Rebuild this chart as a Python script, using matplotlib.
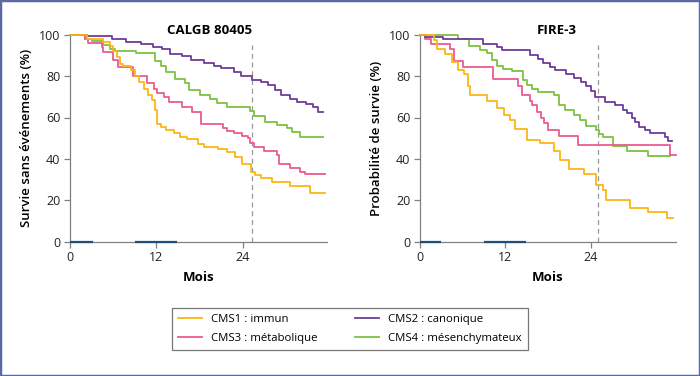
import matplotlib
matplotlib.use("Agg")
import matplotlib.pyplot as plt
from matplotlib.patches import Rectangle

plt.rcParams['font.family'] = ['Open Sans', 'DejaVu Sans']

# CALGB 80405 (mois, % survie sans événements) -- niveau qui commence à chaque temps
calgb_cms1_t = [0, 2.4, 4.6, 5.6, 6.0, 6.5, 6.9, 7.3, 8.5, 9.0, 9.6, 10.3, 10.9, 11.4, 11.8, 12.1, 12.7,
                13.4, 14.4, 15.3, 16.2, 17.8, 18.6, 20.6, 21.8, 22.9, 23.9, 25.1, 25.7, 26.6, 28.0,
                30.5, 33.3, 35.4]
calgb_cms1_v = [100, 97.9, 96.6, 94.5, 92, 89, 86, 84.9, 83, 80, 77.3, 74, 70.9, 68.4, 63.6, 56.7, 55.2,
                54, 52.3, 50.7, 49.4, 47.2, 45.6, 44.6, 43.5, 41, 37.4, 33.8, 32.2, 30.6, 29,
                26.9, 23.7, 23.7]
calgb_cms2_t = [0, 2.3, 5.8, 7.8, 9.9, 11.5, 12.8, 13.9, 15.5, 16.8, 18.6, 20.0, 21.0, 22.8, 23.8,
                25.3, 26.5, 27.5, 28.5, 29.3, 30.6, 31.5, 32.8, 33.8, 34.5, 35.2]
calgb_cms2_v = [100, 99.5, 98, 96.5, 95.5, 94, 93, 90.5, 89.5, 88, 86.5, 85, 84, 82, 80,
                78, 77, 75.5, 73.5, 71, 69, 67.5, 66.5, 65, 62.5, 62.5]
calgb_cms3_t = [0, 2.1, 2.5, 4.4, 4.6, 6.0, 6.7, 8.8, 10.7, 11.7, 12.1, 13.0, 13.7, 15.5, 16.9, 18.2,
                21.3, 21.8, 22.8, 23.9, 24.7, 25.0, 25.5, 26.9, 28.7, 29.1, 30.6, 32.0, 32.7, 35.4]
calgb_cms3_v = [100, 98, 96, 94, 91.5, 88, 84.5, 80.2, 76.8, 74, 72, 70, 67.6, 65.2, 62.8, 56.7,
                54.7, 53.5, 52.7, 51, 50, 47.8, 45.9, 44, 41.9, 37.5, 35.7, 33.8, 32.7, 32.7]
calgb_cms4_t = [0, 2.1, 3.0, 4.6, 5.6, 6.3, 9.2, 11.8, 12.7, 13.4, 14.6, 16.0, 16.5, 18.1, 19.5,
                20.4, 21.8, 25.0, 25.5, 27.1, 28.7, 30.1, 30.8, 32.0, 35.2]
calgb_cms4_v = [100, 98, 97, 95, 93, 92, 91, 87.5, 85, 82, 78.5, 76.5, 73.5, 71, 69,
                67, 65, 63, 60.5, 58, 56.5, 55, 53, 50.5, 50.5]

# FIRE-3 (mois, % probabilité de survie)
fire_cms1_t = [0, 1.9, 2.4, 3.5, 4.5, 5.4, 6.2, 6.7, 7.1, 9.4, 10.8, 11.8, 12.7, 13.4, 15.0, 16.9,
               18.8, 19.7, 20.9, 23.0, 24.7, 25.7, 26.2, 29.5, 32.1, 34.8, 35.6]
fire_cms1_v = [100, 97.5, 93, 90.5, 87, 83, 81, 75, 71, 68, 64.5, 61, 59, 54.5, 49, 47.5,
               44, 39.5, 35, 32.5, 27.5, 25, 20, 16.5, 14.3, 11.5, 11.5]
fire_cms2_t = [0, 0.7, 3.3, 8.9, 10.8, 11.5, 15.5, 16.6, 17.3, 18.3, 19.0, 20.6, 21.7, 22.7, 23.4,
               24.1, 24.6, 26.0, 27.4, 28.6, 29.1, 29.8, 30.2, 30.8, 31.6, 32.3, 34.5, 34.9, 35.4]
fire_cms2_v = [100, 99, 98, 95.5, 94, 92.5, 90, 88.5, 86.5, 84.5, 83, 81, 79, 77, 75,
               72.7, 70, 67.5, 66, 63.5, 62, 60, 58, 55.5, 54, 52.5, 50.5, 48.5, 48.5]
fire_cms3_t = [0, 0.7, 1.6, 4.2, 4.8, 6.1, 10.3, 13.8, 14.3, 15.5, 15.8, 16.4, 17.0, 17.5, 18.0,
               19.5, 22.2, 35.1, 36.0]
fire_cms3_v = [100, 98, 95.5, 93, 87.5, 84.5, 78.5, 75, 71, 68, 66, 62.5, 60, 57.5, 54,
               51, 46.5, 42, 42]
fire_cms4_t = [0, 5.4, 6.9, 8.4, 9.4, 10.1, 10.8, 11.7, 12.9, 14.5, 15.0, 15.7, 16.6, 18.8, 19.5,
               20.4, 21.6, 22.5, 23.4, 24.8, 25.2, 25.8, 27.2, 29.1, 32.0, 35.2]
fire_cms4_v = [100, 98, 94.5, 92.5, 91, 88, 85, 83.5, 82.5, 78, 75.5, 74, 72.5, 71, 66,
               63.8, 61, 59, 56, 54, 52, 50.5, 46, 43.6, 41.5, 41.5]

noms = ['CMS1 : immun', 'CMS2 : canonique', 'CMS3 : métabolique', 'CMS4 : mésenchymateux']
couleurs = ['#FDB515', '#6E3D9A', '#EC5B93', '#7DC143']
# le jaune passe par-dessus les autres
plans = [2.6, 2.4, 2.3, 2.2]

# traits bleus sur l'axe des x (mois)
barres_calgb = [(0, 3.2), (9.0, 14.9)]
barres_fire = [(0, 2.9), (9.0, 14.9)]
repere_calgb = 25.3
repere_fire = 25.1

fig = plt.figure(figsize=(7, 3.76), dpi=100)
ax1 = fig.add_axes([70 / 700, 1 - 241.7 / 376, 257 / 700, 207 / 376])
ax2 = fig.add_axes([420 / 700, 1 - 241.7 / 376, 256 / 700, 207 / 376])

panneaux = [
    (ax1, [(calgb_cms1_t, calgb_cms1_v), (calgb_cms2_t, calgb_cms2_v),
           (calgb_cms3_t, calgb_cms3_v), (calgb_cms4_t, calgb_cms4_v)],
     barres_calgb, repere_calgb, 35.7, 'Survie sans événements (%)'),
    (ax2, [(fire_cms1_t, fire_cms1_v), (fire_cms2_t, fire_cms2_v),
           (fire_cms3_t, fire_cms3_v), (fire_cms4_t, fire_cms4_v)],
     barres_fire, repere_fire, 36.0, 'Probabilité de survie (%)'),
]

lignes = []
for ax, courbes, barres, repere, xmax, ylab in panneaux:
    ax.vlines(repere, 0, 95, colors='#999999', linestyles=(0, (4, 3)), linewidth=0.9)
    lignes = []
    for (t, v), c, n, z in zip(courbes, couleurs, noms, plans):
        l, = ax.step(t, v, where='post', color=c, linewidth=1.3, label=n,
                     clip_on=False, zorder=z)
        lignes.append(l)
    for a, b in barres:
        ax.plot([a, b], [0, 0], color='#1F4E79', linewidth=1.6, clip_on=False, zorder=5,
                solid_capstyle='butt')
    ax.set_xlim(0, xmax)
    ax.set_ylim(0, 100)
    ax.set_xticks([0, 12, 24])
    ax.set_yticks([0, 20, 40, 60, 80, 100])
    for s in ['top', 'right']:
        ax.spines[s].set_visible(False)
    for s in ['left', 'bottom']:
        ax.spines[s].set_color('#808080')
        ax.spines[s].set_linewidth(0.9)
    ax.tick_params(direction='out', length=4, width=0.9, color='#808080',
                   labelsize=9, labelcolor='#222222', pad=3)
    ax.set_ylabel(ylab, fontsize=9.5, fontweight='semibold', labelpad=4)
    ax.set_xlabel('Mois', fontsize=9.5, fontweight='bold', labelpad=5)

fig.text(210 / 700, 1 - 30 / 376, 'CALGB 80405', ha='center', va='center',
         fontsize=9.5, fontweight='bold')
fig.text(557 / 700, 1 - 30 / 376, 'FIRE-3', ha='center', va='center',
         fontsize=9.5, fontweight='bold')

ordre = [0, 2, 1, 3]
leg = fig.legend([lignes[i] for i in ordre], [noms[i] for i in ordre], ncol=2,
                 loc='center', bbox_to_anchor=(350 / 700, 1 - 329 / 376),
                 fontsize=8.2, frameon=True, fancybox=False, handlelength=2.1,
                 columnspacing=3.3, borderpad=0.5, labelspacing=0.75, handletextpad=0.8)
leg.get_frame().set_edgecolor('#555555')
leg.get_frame().set_linewidth(0.9)

fig.patches.append(Rectangle((0, 0), 1, 1, transform=fig.transFigure, fill=False,
                             edgecolor='#5B6AA5', linewidth=2.5))

fig.savefig('out.png', dpi=100)
